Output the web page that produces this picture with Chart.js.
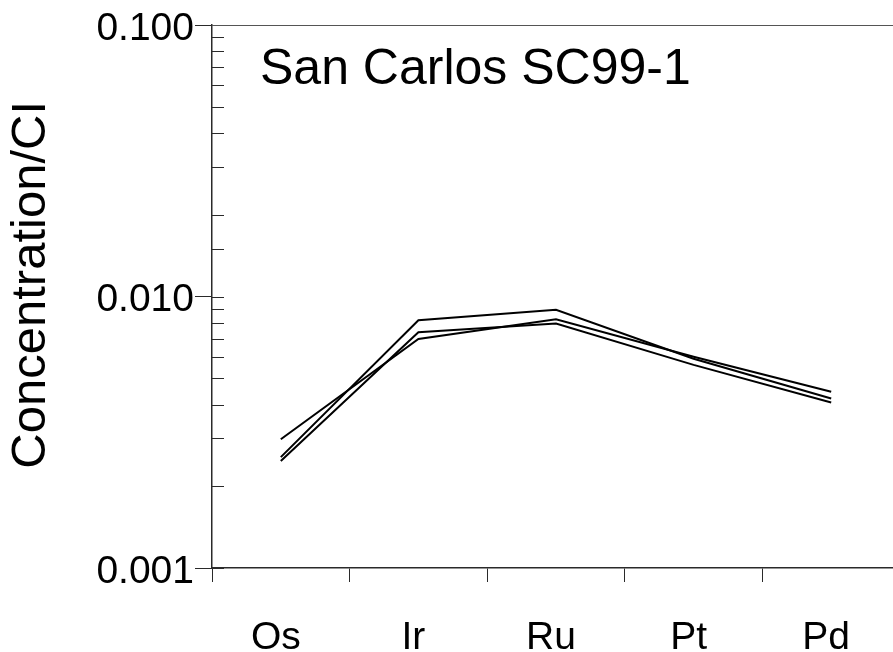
<!DOCTYPE html>
<html>
<head>
<meta charset="utf-8">
<script src="https://cdn.jsdelivr.net/npm/chart.js@4/dist/chart.umd.min.js"></script>
<style>
  html, body { margin: 0; padding: 0; background: #fff; overflow: hidden; }
  #wrap { position: relative; width: 900px; height: 652px; }
  #title { position: absolute; left: 260px; top: 42px; font-family: "Liberation Sans", Arial, sans-serif;
           font-size: 50px; line-height: 50px; color: #000; white-space: nowrap; }
</style>
</head>
<body>
<div id="wrap">
  <canvas id="c" width="900" height="652"></canvas>
  <div id="title">San Carlos SC99-1</div>
</div>
<script>
// ---- data ----
const categories = ['Os', 'Ir', 'Ru', 'Pt', 'Pd'];
const sampleA = [0.00298, 0.00697, 0.00825, 0.00600, 0.00446];
const sampleB = [0.00256, 0.00818, 0.00893, 0.00590, 0.00421];
const sampleC = [0.00248, 0.00739, 0.00795, 0.00560, 0.00407];
const yMajorValues = [0.001, 0.01, 0.1];
const yTickLabels = ['0.001', '0.010', '0.100'];
const yTitle = '\u00a0\u2009Concentration/CI';

const FONT = '"Liberation Sans", Arial, sans-serif';
const AXIS = '#2a2a2a';

function majorIndex(v) {
  return yMajorValues.findIndex(d => Math.abs(v / d - 1) < 1e-6);
}

const innerTicks = {
  id: 'innerTicks',
  afterDraw(chart) {
    const ctx = chart.ctx, a = chart.chartArea, y = chart.scales.y;
    ctx.save();
    ctx.strokeStyle = AXIS;
    ctx.lineWidth = 1;
    y.ticks.forEach(t => {
      const py = Math.round(y.getPixelForValue(t.value)) + 0.5;
      ctx.beginPath();
      ctx.moveTo(a.left, py);
      ctx.lineTo(a.left + 12, py);
      ctx.stroke();
    });
    ctx.strokeStyle = '#555';
    ctx.beginPath();
    ctx.moveTo(a.left, Math.round(a.top) + 0.5);
    ctx.lineTo(a.right, Math.round(a.top) + 0.5);
    ctx.stroke();
    ctx.restore();
  }
};

const mkSet = (data) => ({
  data, borderColor: '#000', borderWidth: 2, pointRadius: 0, tension: 0, fill: false
});

new Chart(document.getElementById('c'), {
  type: 'line',
  data: { labels: categories, datasets: [mkSet(sampleA), mkSet(sampleB), mkSet(sampleC)] },
  options: {
    responsive: false,
    animation: false,
    devicePixelRatio: 1,
    layout: { padding: { top: 25, left: 0, right: 0, bottom: 0 } },
    plugins: { legend: { display: false }, tooltip: { enabled: false } },
    scales: {
      x: {
        type: 'category',
        offset: true,
        grid: { display: true, offset: true, drawOnChartArea: false, drawTicks: true,
                tickLength: 14, tickColor: AXIS, tickWidth: 1 },
        border: { display: true, color: AXIS, width: 1.5 },
        ticks: { color: '#000', font: { family: FONT, size: 39 }, padding: 33, labelOffset: -5,
                 maxRotation: 0, autoSkip: false },
        afterFit(s) { s.height = 84; }
      },
      y: {
        type: 'logarithmic',
        min: 0.001,
        max: 0.1,
        grid: { display: true, drawOnChartArea: false, drawTicks: true, tickLength: 17,
                tickColor: (ctx) => (ctx.tick && majorIndex(ctx.tick.value) >= 0) ? AXIS : 'rgba(0,0,0,0)',
                tickWidth: 1 },
        border: { display: true, color: AXIS, width: 1.5 },
        ticks: {
          color: '#000', font: { family: FONT, size: 39 }, padding: 1, labelOffset: 4, autoSkip: false,
          callback: (v) => { const i = majorIndex(v); return i >= 0 ? yTickLabels[i] : ''; }
        },
        title: { display: true, text: yTitle, color: '#000', font: { family: FONT, size: 49 },
                 padding: { top: 2, bottom: 0 } },
        afterFit(s) { s.width = 212; }
      }
    }
  },
  plugins: [innerTicks]
});
</script>
</body>
</html>
